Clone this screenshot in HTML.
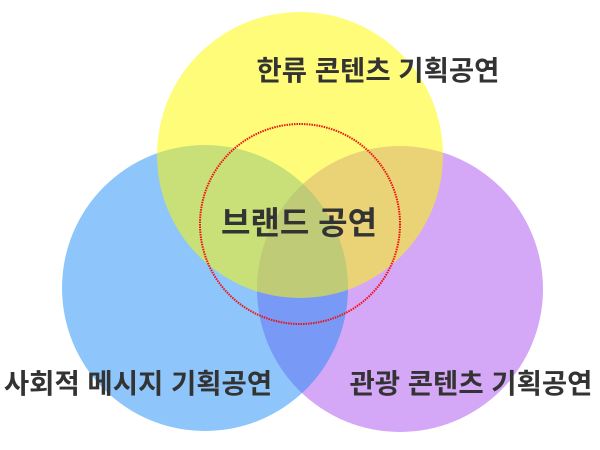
<!DOCTYPE html>
<html><head><meta charset="utf-8"><style>html,body{margin:0;padding:0;background:#fff}</style></head>
<body>
<svg width="600" height="450" viewBox="0 0 600 450" xmlns="http://www.w3.org/2000/svg" style="display:block">
<circle cx="400" cy="289" r="143" fill="rgb(170,80,240)" fill-opacity="0.5"/>
<circle cx="205" cy="288" r="143" fill="rgb(30,140,245)" fill-opacity="0.5"/>
<circle cx="300" cy="155" r="143" fill="rgb(255,250,0)" fill-opacity="0.52"/>
<circle cx="300" cy="224" r="100" fill="none" stroke="#f01010" stroke-width="2" stroke-dasharray="1.5 1"/>
<g font-family="'Liberation Sans','Noto Sans CJK KR','NanumGothic',sans-serif" font-weight="bold" fill="#333">
<text x="378" y="80" font-size="27.5" text-anchor="middle">한류 콘텐츠 기획공연</text>
<text x="299" y="234" font-size="32" text-anchor="middle">브랜드 공연</text>
<text x="138" y="393" font-size="27.5" text-anchor="middle">사회적 메시지 기획공연</text>
<text x="471" y="393" font-size="27.5" text-anchor="middle">관광 콘텐츠 기획공연</text>
</g>
</svg>
</body></html>
